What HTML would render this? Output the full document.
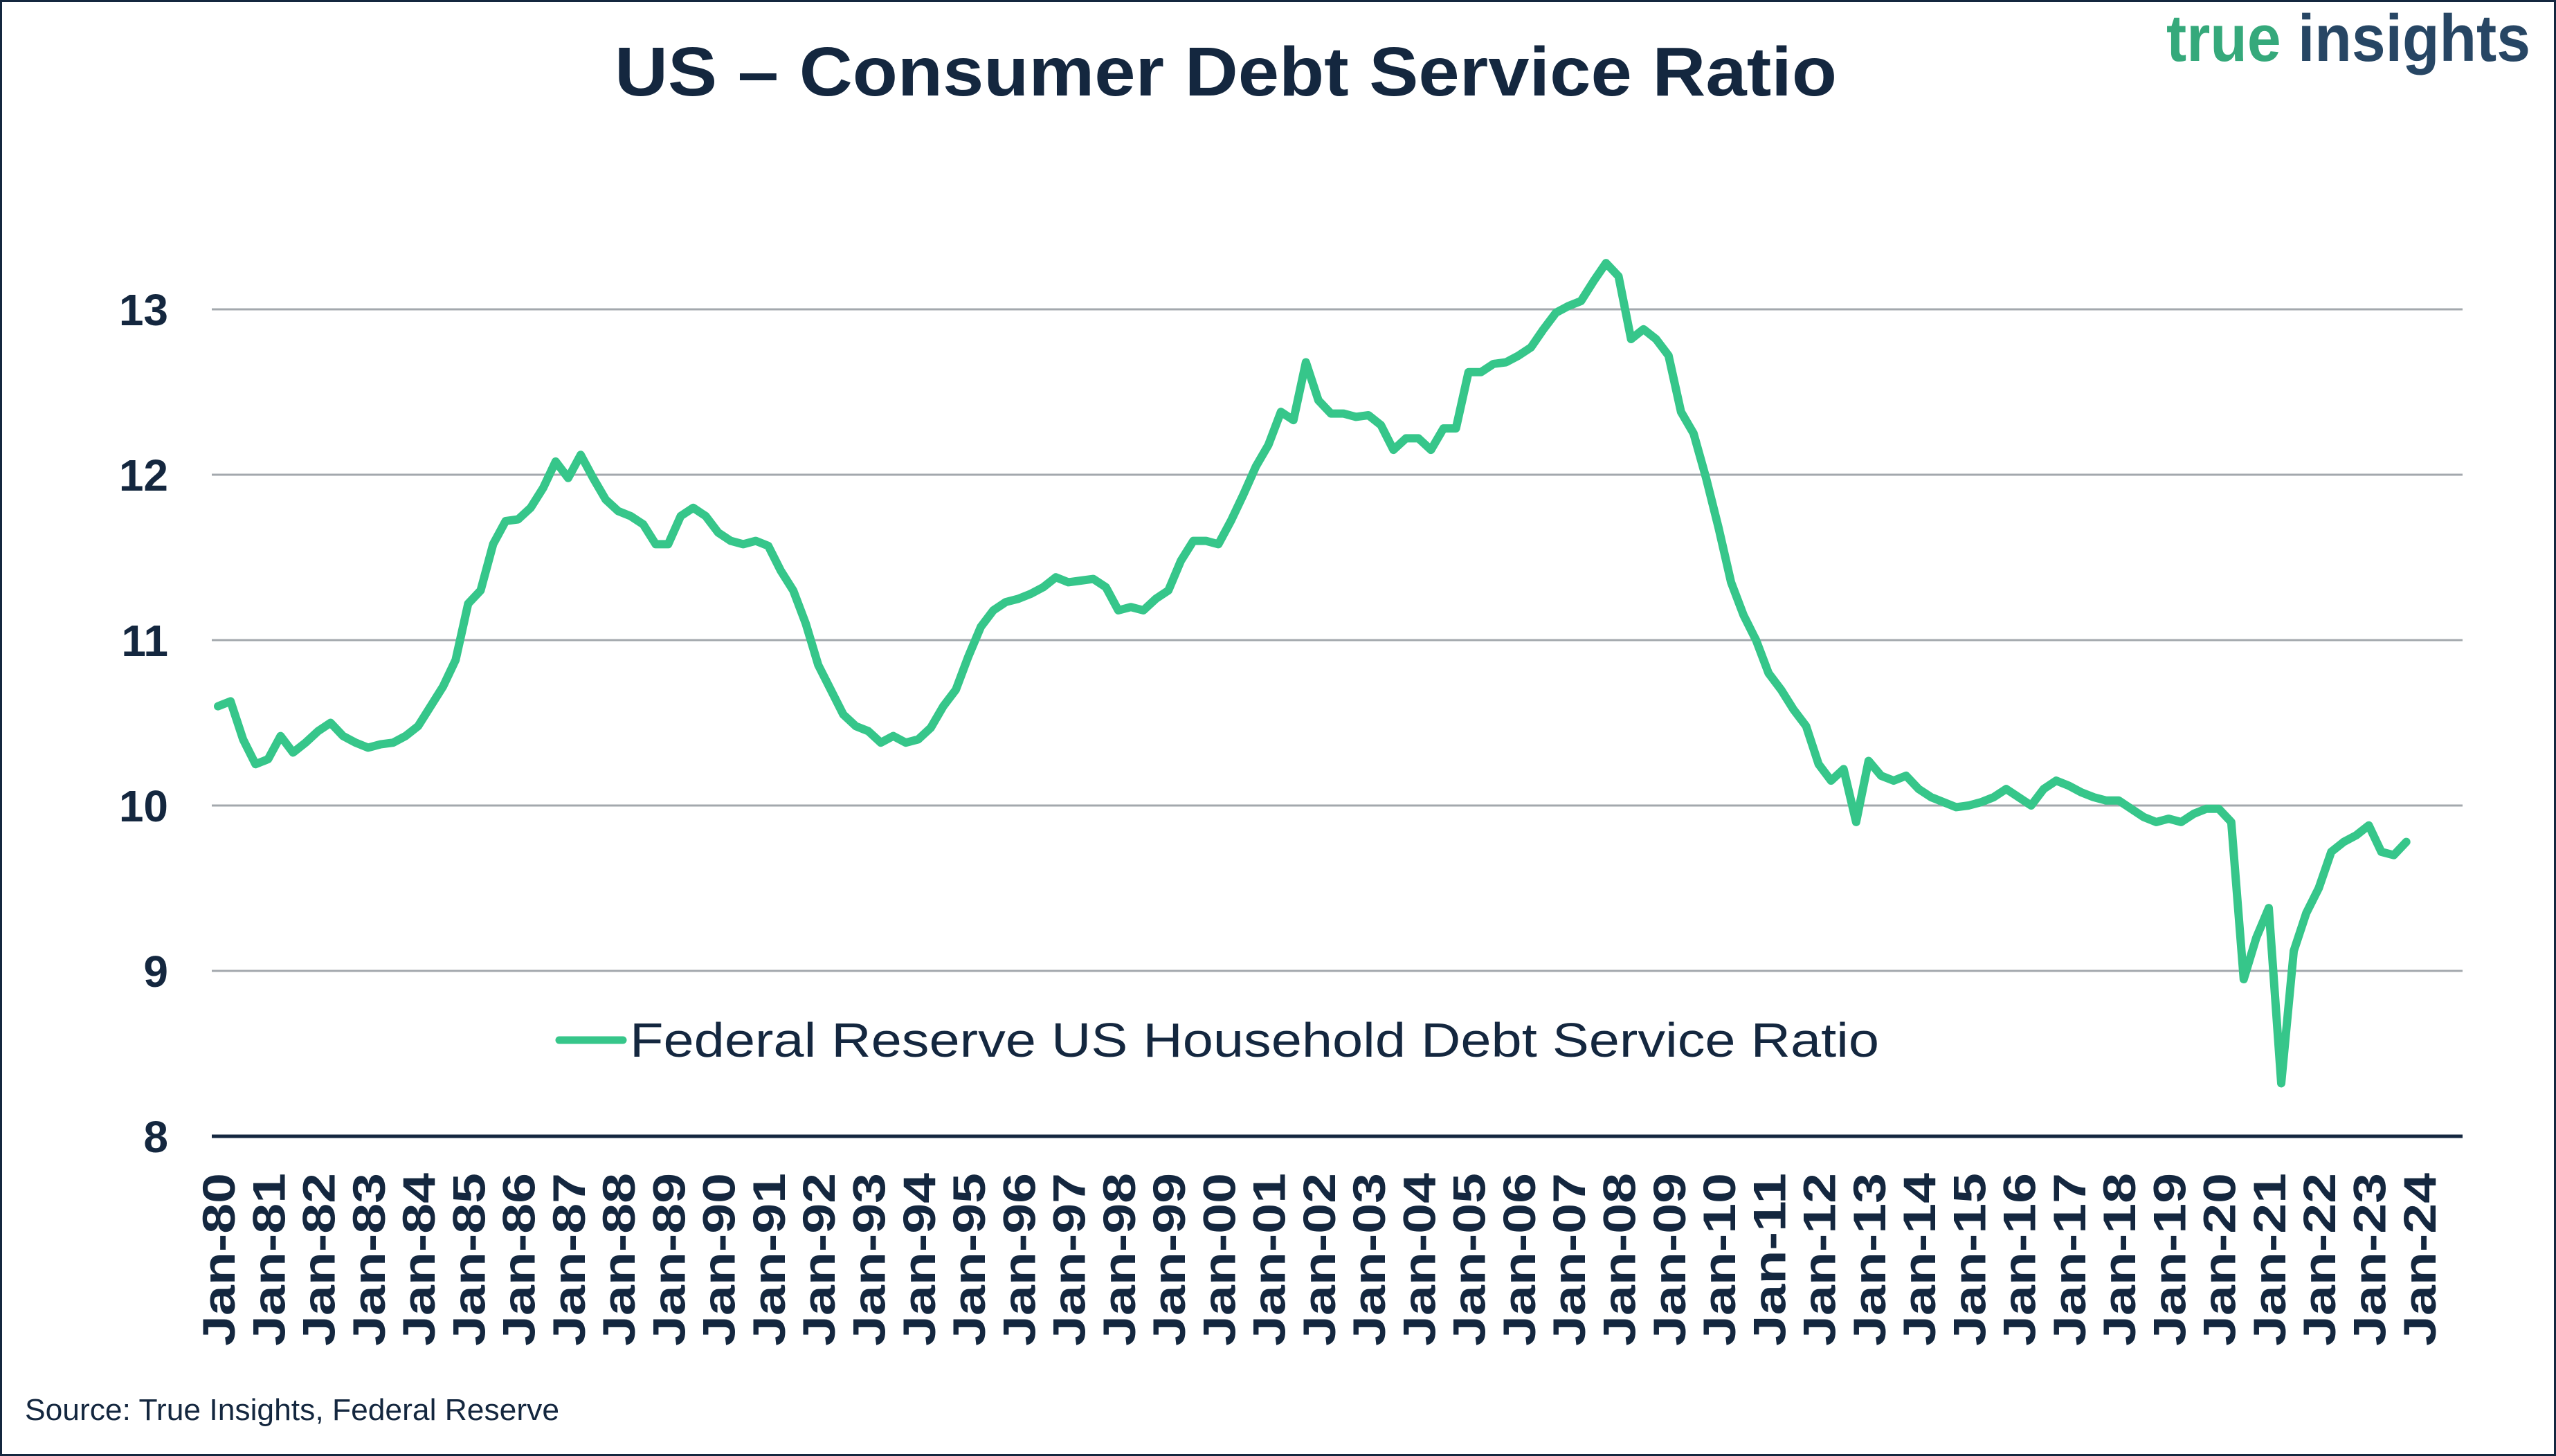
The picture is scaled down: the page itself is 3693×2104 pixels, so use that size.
<!DOCTYPE html>
<html><head><meta charset="utf-8">
<style>
html,body{margin:0;padding:0;background:#fff;}
#wrap{position:relative;width:3693px;height:2104px;box-sizing:border-box;border:3px solid #14273f;background:#fff;overflow:hidden;}
svg{position:absolute;left:-3px;top:-3px;}
text{font-family:"Liberation Sans",sans-serif;}
</style></head>
<body>
<div id="wrap">
<svg id="chart" width="3693" height="2104" viewBox="0 0 3693 2104">
  <text x="888" y="138" font-size="100" font-weight="bold" fill="#14273f" textLength="1766" lengthAdjust="spacingAndGlyphs">US – Consumer Debt Service Ratio</text>
  <text x="3130" y="88" font-size="96" font-weight="bold" textLength="526" lengthAdjust="spacingAndGlyphs"><tspan fill="#35a97b">true </tspan><tspan fill="#274664">insights</tspan></text>
  <g id="grid"></g>
  <g id="yticks"></g>
  <g id="xticks"></g>
  <line x1="306" y1="1642" x2="3558" y2="1642" stroke="#14273f" stroke-width="5"/>
  <path id="series" fill="none" stroke="#36c68a" stroke-width="12" stroke-linejoin="round" stroke-linecap="round"/>
  <g>
    <line x1="808" y1="1503" x2="900" y2="1503" stroke="#36c68a" stroke-width="11" stroke-linecap="round"/>
    <text x="910" y="1527" font-size="70" fill="#14273f" textLength="1805" lengthAdjust="spacingAndGlyphs">Federal Reserve US Household Debt Service Ratio</text>
  </g>
  <text x="36" y="2052" font-size="44" fill="#14273f" textLength="772" lengthAdjust="spacingAndGlyphs">Source: True Insights, Federal Reserve</text>
</svg>
</div>
<script>
const yTicks = [8, 9, 10, 11, 12, 13];
const yearLabels = ["Jan-80","Jan-81","Jan-82","Jan-83","Jan-84","Jan-85","Jan-86","Jan-87","Jan-88","Jan-89","Jan-90","Jan-91","Jan-92","Jan-93","Jan-94","Jan-95","Jan-96","Jan-97","Jan-98","Jan-99","Jan-00","Jan-01","Jan-02","Jan-03","Jan-04","Jan-05","Jan-06","Jan-07","Jan-08","Jan-09","Jan-10","Jan-11","Jan-12","Jan-13","Jan-14","Jan-15","Jan-16","Jan-17","Jan-18","Jan-19","Jan-20","Jan-21","Jan-22","Jan-23","Jan-24"];
const dsrValues = [
10.6,10.63,10.4,10.25, 10.28,10.42,10.32,10.38, 10.45,10.5,10.42,10.38, 10.35,10.37,10.38,10.42,
10.48,10.6,10.72,10.88, 11.22,11.3,11.58,11.72, 11.73,11.8,11.92,12.08, 11.98,12.12,11.98,11.85,
11.78,11.75,11.7,11.58, 11.58,11.75,11.8,11.75, 11.65,11.6,11.58,11.6, 11.57,11.42,11.3,11.1,
10.85,10.7,10.55,10.48, 10.45,10.38,10.42,10.38, 10.4,10.47,10.6,10.7, 10.9,11.08,11.18,11.23,
11.25,11.28,11.32,11.38, 11.35,11.36,11.37,11.32, 11.18,11.2,11.18,11.25, 11.3,11.48,11.6,11.6,
11.58,11.72,11.88,12.05, 12.18,12.38,12.33,12.68, 12.45,12.37,12.37,12.35, 12.36,12.3,12.15,12.22,
12.22,12.15,12.28,12.28, 12.62,12.62,12.67,12.68, 12.72,12.77,12.88,12.98, 13.02,13.05,13.17,13.28,
13.2,12.82,12.88,12.82, 12.72,12.38,12.25,11.98, 11.68,11.35,11.15,11.0, 10.8,10.7,10.58,10.48,
10.25,10.15,10.22,9.9, 10.27,10.18,10.15,10.18, 10.1,10.05,10.02,9.99, 10.0,10.02,10.05,10.1,
10.05,10.0,10.1,10.15, 10.12,10.08,10.05,10.03, 10.03,9.98,9.93,9.9, 9.92,9.9,9.95,9.98,
9.98,9.9,8.95,9.2, 9.38,8.32,9.12,9.35, 9.5,9.72,9.78,9.82, 9.88,9.72,9.7,9.78
];
const NS = "http://www.w3.org/2000/svg";
const X0 = 306, X1 = 3558, NCAT = 180;
const Y8 = 1642, PXU = 239;
function xPos(i){ return X0 + (i + 0.5) * (X1 - X0) / NCAT; }
function yPos(v){ return Y8 - (v - 8) * PXU; }
const grid = document.getElementById('grid');
const yt = document.getElementById('yticks');
yTicks.forEach(v => {
  if (v !== 8) {
    const l = document.createElementNS(NS, 'line');
    l.setAttribute('x1', X0); l.setAttribute('x2', X1);
    l.setAttribute('y1', yPos(v)); l.setAttribute('y2', yPos(v));
    l.setAttribute('stroke', '#a3a8ad'); l.setAttribute('stroke-width', '3');
    
    
    grid.appendChild(l);
  }
  const t = document.createElementNS(NS, 'text');
  t.setAttribute('x', 243); t.setAttribute('y', yPos(v) + 23);
  t.setAttribute('text-anchor', 'end'); t.setAttribute('font-size', '64');
  t.setAttribute('font-weight', 'bold'); t.setAttribute('fill', '#14273f');
  t.textContent = v;
  
  
  yt.appendChild(t);
});
const xt = document.getElementById('xticks');
yearLabels.forEach((lab, k) => {
  const x = xPos(k * 4) + 24;
  const t = document.createElementNS(NS, 'text');
  t.setAttribute('transform', 'translate(' + x + ',1695) rotate(-90)');
  t.setAttribute('text-anchor', 'end'); t.setAttribute('font-size', '66');
  t.setAttribute('font-weight', 'bold'); t.setAttribute('fill', '#14273f');
  t.setAttribute('textLength', '250'); t.setAttribute('lengthAdjust', 'spacingAndGlyphs');
  t.textContent = lab;
  
  
  xt.appendChild(t);
});
let d = '';
dsrValues.forEach((v, i) => { d += (i ? 'L' : 'M') + xPos(i).toFixed(1) + ' ' + yPos(v).toFixed(1) + ' '; });
document.getElementById('series').setAttribute('d', d);
</script>
</body></html>
